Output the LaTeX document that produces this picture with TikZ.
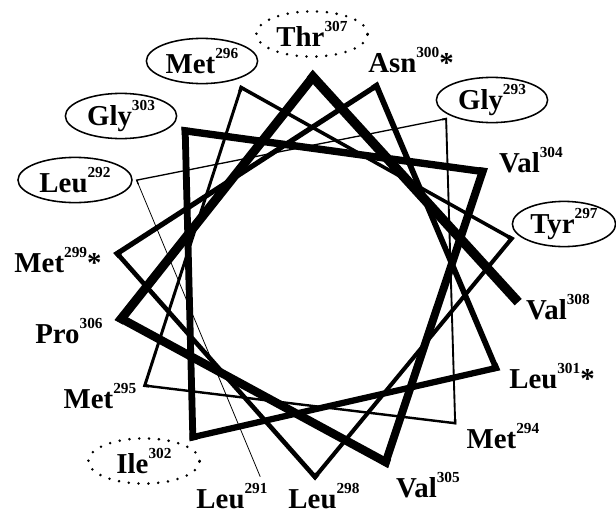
\documentclass[tikz,border=0pt]{standalone}
\usepackage{fontspec}
\setmainfont{Liberation Serif}
\usetikzlibrary{calc,shapes.geometric}
\newcommand\resno[1]{\raisebox{0.52em}{\fontsize{10.9}{12}\selectfont #1}}

\begin{document}
\begin{tikzpicture}[x=0.025cm,y=0.025cm,
  every node/.style={font=\bfseries\fontsize{20.5}{24}\selectfont},
  lab/.style={anchor=base,inner sep=1pt},
  ring/.style={ellipse,draw,line width=1.1pt,inner sep=0pt,
    minimum width=2.78cm,minimum height=1.13cm},
  dotring/.style={ring,line width=2pt,line cap=round,dash pattern=on 0pt off 7pt}]
\useasboundingbox (-315,-239) rectangle (301,275);
% wheel positions, 100 degrees per residue
\foreach \n/\a/\r in {291/254.8/209, 292/152/202, 293/50/204, 294/313.4/204,
  295/213/203, 296/111.5/201.5, 297/10.5/200, 298/270/202, 299/173.8/199,
  300/72/199, 301/332.8/203.5, 302/233/203, 303/132/194, 304/31.7/197,
  305/290.7/200, 306/192.7/198.5, 307/90.6/198, 308/-7.6/205}
  \coordinate (r\n) at (\a:\r);
\coordinate (r290) at (r292);
\coordinate (r309) at (r307);
% backbone, getting thicker towards the C end
\foreach \n [evaluate=\n as \w using 0.55+0.39*(\n-291)] in {291,...,307}{
  \pgfmathtruncatemacro\p{\n-1}
  \pgfmathtruncatemacro\m{\n+1}
  \pgfmathtruncatemacro\o{\n+2}
  \draw[line width=\w pt] ($(r\n)!3pt!(r\p)$) -- (r\n) -- (r\m) -- ($(r\m)!3pt!(r\o)$);
}
% residues
\node[dotring] (thr307) at (-3,241) {Thr\resno{307}};
\node[ring] (met296) at (-113,214) {Met\resno{296}};
\node[lab] (asn300) at (96,203) {Asn\resno{300}*};
\node[ring] (gly293) at (177,175) {Gly\resno{293}};
\node[ring] (gly303) at (-194,159) {Gly\resno{303}};
\node[ring,minimum width=2.85cm] (leu292) at (-240,95) {Leu\resno{292}};
\node[lab] (val304) at (216,103) {Val\resno{304}};
\node[ring,minimum width=2.58cm] (tyr297) at (249,51) {Tyr\resno{297}};
\node[lab] (met299) at (-257,3) {Met\resno{299}*};
\node[lab] (val308) at (243,-44) {Val\resno{308}};
\node[lab] (pro306) at (-246,-68) {Pro\resno{306}};
\node[lab] (leu301) at (237,-113) {Leu\resno{301}*};
\node[lab] (met295) at (-215,-133) {Met\resno{295}};
\node[lab] (met294) at (188,-173) {Met\resno{294}};
\node[dotring] (ile302) at (-171,-186) {Ile\resno{302}};
\node[lab] (val305) at (113,-222) {Val\resno{305}};
\node[lab] (leu291) at (-83,-233) {Leu\resno{291}};
\node[lab] (leu298) at (9,-233) {Leu\resno{298}};
\end{tikzpicture}
\end{document}
